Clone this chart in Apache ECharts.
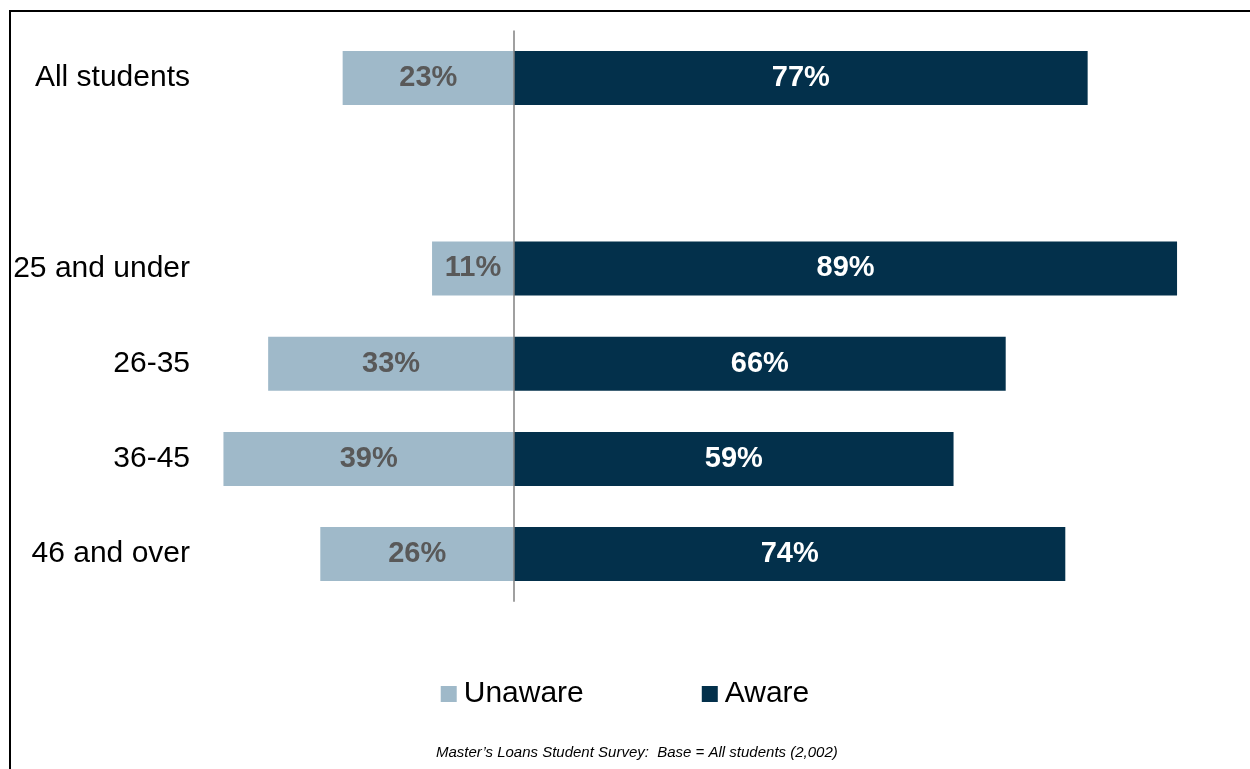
<!DOCTYPE html>
<html>
<head>
<meta charset="utf-8">
<script src="https://cdn.jsdelivr.net/npm/echarts@6/dist/echarts.min.js"></script>
<style>html,body{margin:0;padding:0;background:#fff;}#c{width:1250px;height:769px;}</style>
</head>
<body>
<div id="c"></div>
<script>
const categories = ['All students', '', '25 and under', '26-35', '36-45', '46 and over'];
const unaware = [23, null, 11, 33, 39, 26];
const aware = [77, null, 89, 66, 59, 74];
const seriesNames = ['Unaware', 'Aware'];
const footnote = 'Master\u2019s Loans Student Survey:  Base = All students (2,002)';

const chart = echarts.init(document.getElementById('c'), null, {renderer: 'canvas'});
const fmt = p => (p.value == null || p.value === '-') ? '' : Math.abs(p.value) + '%';
chart.setOption({
  animation: false,
  backgroundColor: '#fff',
  grid: {left: 216, right: 65.5, top: 30.4, bottom: 167.3, containLabel: false},
  xAxis: {type: 'value', min: -40, max: 90, show: false},
  yAxis: {
    type: 'category', data: categories, inverse: true,
    axisLine: {show: false}, axisTick: {show: false},
    axisLabel: {fontFamily: 'Liberation Sans, Arial', fontSize: 30, color: '#000', margin: 26, padding: [3,0,0,0]}
  },
  legend: {
    data: seriesNames, bottom: 55, left: 'center',
    itemWidth: 16, itemHeight: 16, itemGap: 118, icon: 'rect',
    textStyle: {fontFamily: 'Liberation Sans, Arial', fontSize: 30, color: '#000', padding: [0,0,0,2]}
  },
  series: [
    {
      name: 'Unaware', type: 'bar', barWidth: 54, barGap: '-100%',
      data: unaware.map(v => v == null ? '-' : -v),
      itemStyle: {color: '#9FB9C9'},
      label: {show: true, position: 'inside', formatter: fmt, color: '#595959',
        fontFamily: 'Liberation Sans, Arial', fontWeight: 'bold', fontSize: 29},
      markLine: {
        silent: true, symbol: 'none', label: {show: false},
        lineStyle: {color: '#808080', width: 1.5, type: 'solid'},
        data: [{xAxis: 0}]
      }
    },
    {
      name: 'Aware', type: 'bar', barWidth: 54, barGap: '-100%',
      data: aware.map(v => v == null ? '-' : v),
      itemStyle: {color: '#03304B'},
      label: {show: true, position: 'inside', formatter: fmt, color: '#fff',
        fontFamily: 'Liberation Sans, Arial', fontWeight: 'bold', fontSize: 29}
    }
  ],
  graphic: [
    {type: 'rect', shape: {x: 10, y: 11, width: 1300, height: 820},
      style: {fill: 'none', stroke: '#000', lineWidth: 2}, silent: true},
    {type: 'text', left: 436, top: 745,
      style: {text: footnote, fontFamily: 'Liberation Sans, Arial', fontStyle: 'italic', fontSize: 15, fill: '#000'}}
  ]
});
</script>
</body>
</html>
